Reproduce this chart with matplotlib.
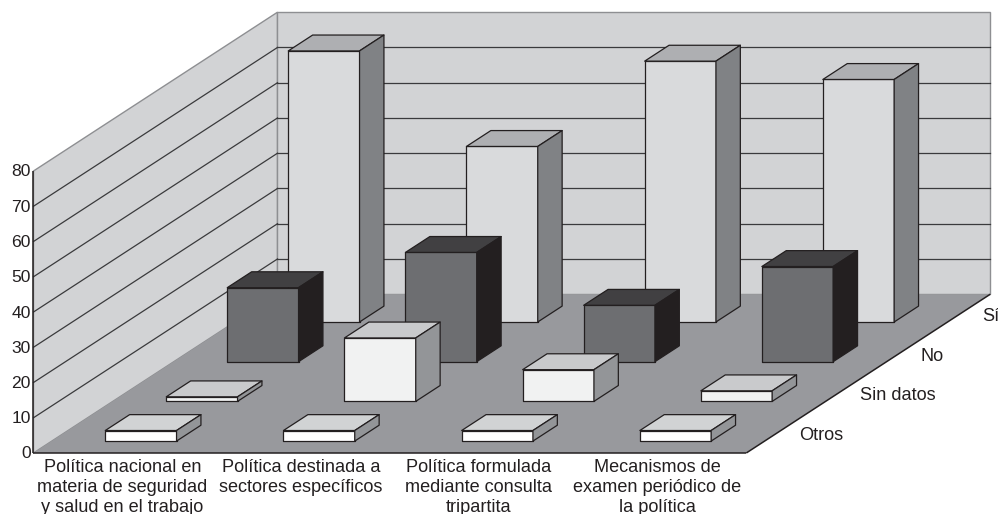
import matplotlib
matplotlib.use("Agg")
import matplotlib.pyplot as plt
from matplotlib.patches import Polygon

plt.rcParams['font.family'] = ['Liberation Sans', 'DejaVu Sans']

categories = ["Política nacional en\nmateria de seguridad\ny salud en el trabajo",
              "Política destinada a\nsectores específicos",
              "Política formulada\nmediante consulta\ntripartita",
              "Mecanismos de\nexamen periódico de\nla política"]
series_names = ["Otros", "Sin datos", "No", "Sí"]
otros = [3, 3, 3, 3]
sin_datos = [1.3, 18, 9, 3]
no = [21, 31, 16, 27]
si = [76.9, 49.8, 74, 68.8]
series_values = [otros, sin_datos, no, si]
yticks = [0, 10, 20, 30, 40, 50, 60, 70, 80]

# face colours per series: front, top, side
faces = [("#FFFFFF", "#D1D3D4", "#939598"),
         ("#F1F2F2", "#C9CACC", "#939598"),
         ("#6D6E71", "#414042", "#231F20"),
         ("#D9DADC", "#AEAFB2", "#808285")]

# oblique projection
X0, Y0 = 33.5, 453.0
CAT_DX = 178.2
SER_DX, SER_DY = 61.0, -39.7
VAL_DY = -3.525
BAR_W, BAR_D = 0.4, 0.4
YMAX = yticks[-1]


def proj(c, s, v):
    return (X0 + c * CAT_DX + s * SER_DX, Y0 + s * SER_DY + v * VAL_DY)


fig = plt.figure(figsize=(9.98, 5.14), dpi=100)
ax = fig.add_axes([0, 0, 1, 1])
ax.set_xlim(0, 998)
ax.set_ylim(514, 0)
ax.axis("off")

nc, ns = len(categories), len(series_names)
WALL = "#D2D3D5"
WALL_EDGE = "#8E8F92"
GRID = "#3A3A3C"

# walls and floor
ax.add_patch(Polygon([proj(0, 0, 0), proj(0, ns, 0), proj(0, ns, YMAX), proj(0, 0, YMAX)],
                     fc=WALL, ec=WALL_EDGE, lw=1.0, zorder=1))
ax.add_patch(Polygon([proj(0, ns, 0), proj(nc, ns, 0), proj(nc, ns, YMAX), proj(0, ns, YMAX)],
                     fc=WALL, ec=WALL_EDGE, lw=1.0, zorder=1))
ax.add_patch(Polygon([proj(0, 0, 0), proj(nc, 0, 0), proj(nc, ns, 0), proj(0, ns, 0)],
                     fc="#98999D", ec="none", zorder=1.5))

# gridlines
for t in yticks[1:-1]:
    (x1, y1), (x2, y2), (x3, y3) = proj(0, 0, t), proj(0, ns, t), proj(nc, ns, t)
    ax.plot([x1, x2], [y1, y2], color=GRID, lw=0.9, zorder=2)
    ax.plot([x2, x3], [y2, y3], color=GRID, lw=0.9, zorder=2)

# edges in black
for a, b in [(proj(0, 0, 0), proj(nc, 0, 0)), (proj(nc, 0, 0), proj(nc, ns, 0)),
             (proj(0, 0, 0), proj(0, 0, YMAX))]:
    ax.plot([a[0], b[0]], [a[1], b[1]], color="#231F20", lw=1.1, zorder=2.5,
            solid_capstyle="butt")

# bars, back to front
z = 3
for s in reversed(range(ns)):
    front, top, side = faces[s]
    for c in range(nc):
        v = series_values[s][c]
        c0, c1 = c + 0.5 - BAR_W / 2, c + 0.5 + BAR_W / 2
        s0, s1 = s + 0.3, s + 0.3 + BAR_D
        polys = [
            ([proj(c0, s0, 0), proj(c1, s0, 0), proj(c1, s0, v), proj(c0, s0, v)], front),
            ([proj(c0, s0, v), proj(c1, s0, v), proj(c1, s1, v), proj(c0, s1, v)], top),
            ([proj(c1, s0, 0), proj(c1, s1, 0), proj(c1, s1, v), proj(c1, s0, v)], side),
        ]
        for pts, col in polys:
            ax.add_patch(Polygon(pts, fc=col, ec="#231F20", lw=0.9, joinstyle="round", zorder=z))
        z += 1

TXT = "#231F20"
FS = 13.1
# value tick labels
for t in yticks:
    x, y = proj(0, 0, t)
    ax.text(x - 2.5, y + 1, str(t), ha="right", va="center", fontsize=12.6, color=TXT, zorder=50)

# category labels
for i, lab in enumerate(categories):
    x, _ = proj(i + 0.5, 0, 0)
    ax.text(x, Y0 + 5.5, lab, ha="center", va="top", fontsize=FS, color=TXT,
            linespacing=1.24, zorder=50)

# series labels
for j, lab in enumerate(series_names):
    x, y = proj(nc, j + 0.5, 0)
    ax.text(x + 22, y + 2.5, lab, ha="left", va="center", fontsize=FS, color=TXT, zorder=50)

fig.savefig("out.png", dpi=100)
